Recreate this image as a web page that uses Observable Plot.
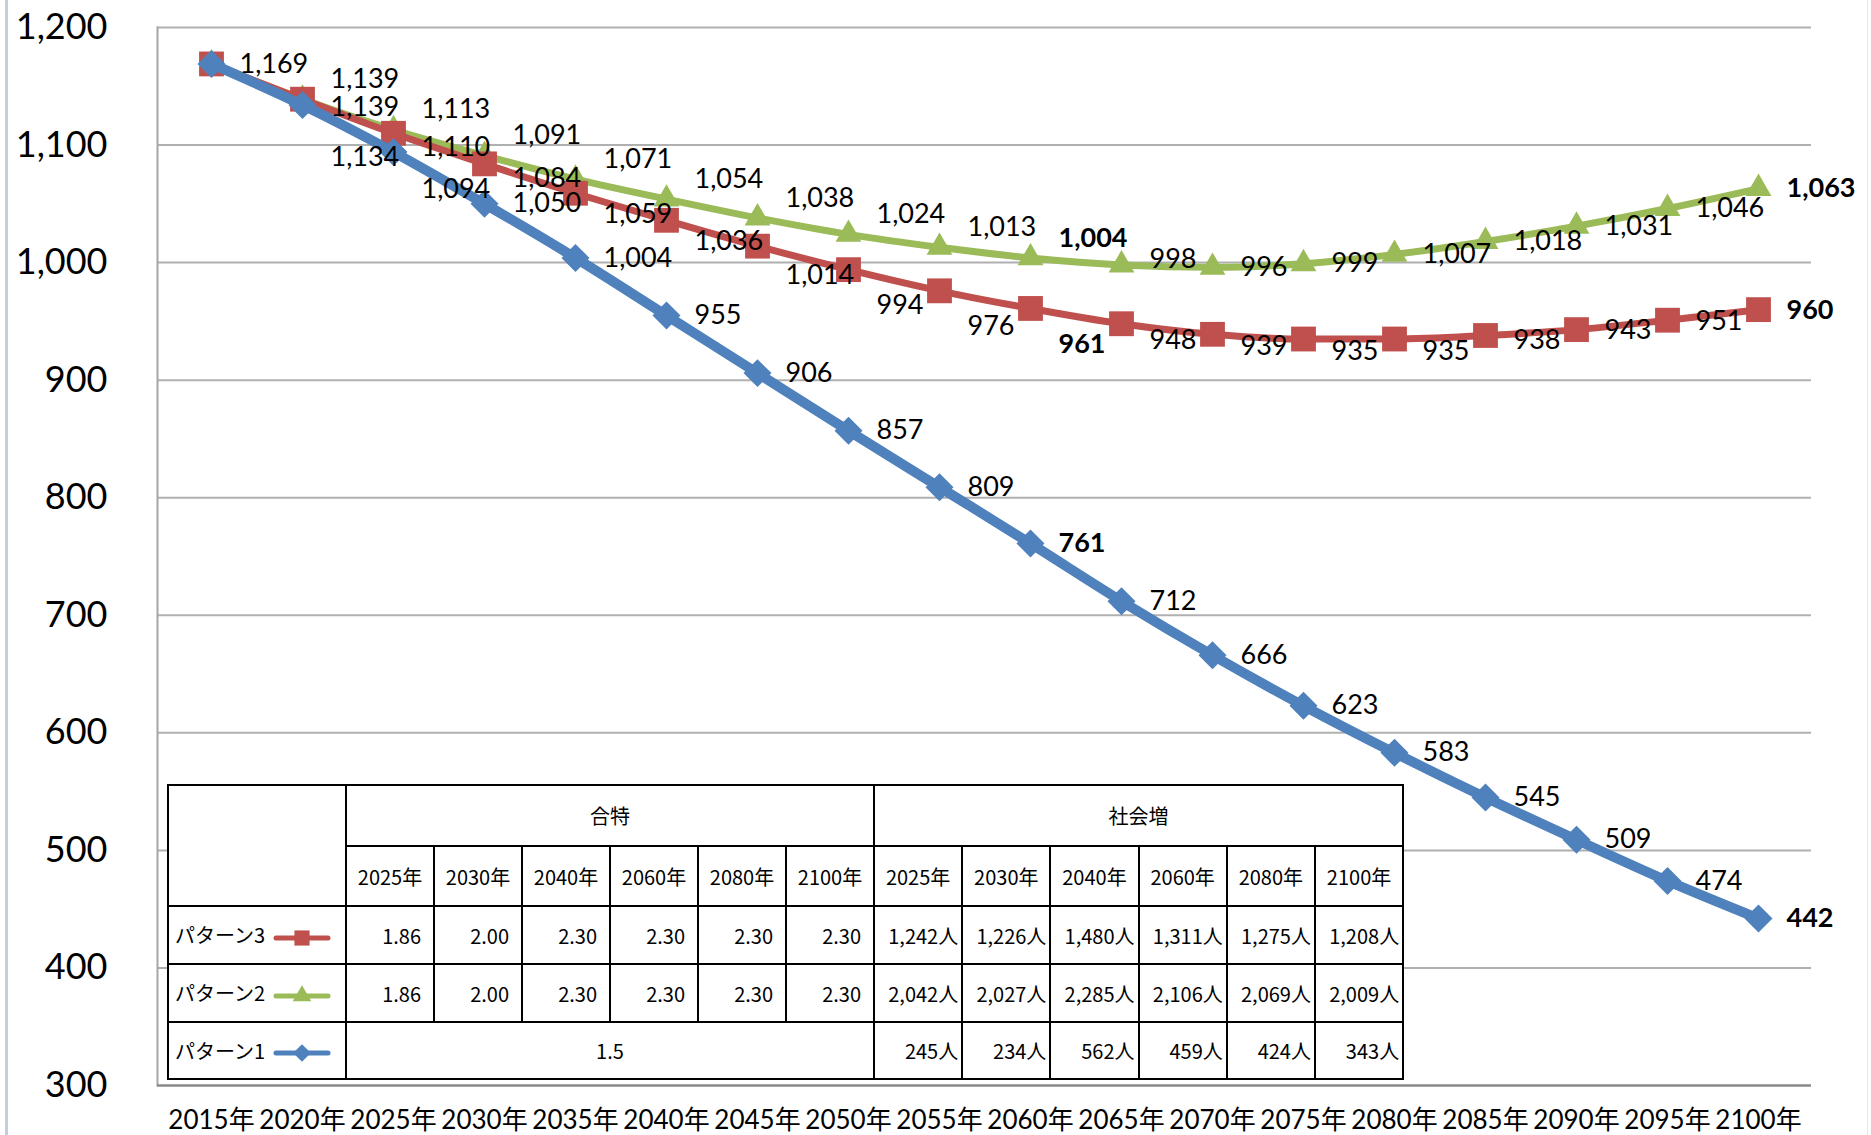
<!DOCTYPE html>
<html>
<head>
<meta charset="utf-8">
<script src="https://cdn.jsdelivr.net/npm/d3@7"></script>
<script src="https://cdn.jsdelivr.net/npm/@observablehq/plot@0.6"></script>
<style>
  html, body { margin: 0; padding: 0; background: #fff; }
  #wrap { position: relative; width: 1871px; height: 1135px; overflow: hidden; background: #fff; }
  #edgeL { position: absolute; left: 5px; top: 0; width: 3px; height: 1135px; background: #c3cde0; }
  #edgeR { position: absolute; left: 1867px; top: 0; width: 1px; height: 1135px; background: #e3e8f2; }
  #tbl { position: absolute; left: 167px; top: 784px; width: 1235px; height: 295px;
         border-collapse: collapse; table-layout: fixed; background: #fff;
         font-family: "Noto Sans CJK JP", "Noto Sans", sans-serif; font-size: 20px; color: #000; }
  #tbl td { border: 2px solid #000; padding: 0; white-space: nowrap; overflow: hidden; }
  #tbl td.c { text-align: center; }
  #tbl td.r1 { text-align: right; padding-right: 12px; }
  #tbl td.r2 { text-align: right; padding-right: 3px; }
  #tbl td.lg { padding-left: 6px; }
  #tbl td.lg svg { vertical-align: middle; margin-left: 8px; }
</style>
</head>
<body>
<div id="wrap">
  <div id="chart"></div>
  <div id="edgeL"></div>
  <div id="edgeR"></div>
</div>
<script>
// ---------------- data ----------------
const years = [2015, 2020, 2025, 2030, 2035, 2040, 2045, 2050, 2055, 2060, 2065, 2070, 2075, 2080, 2085, 2090, 2095, 2100];
const pattern1 = [1169, 1134, 1094, 1050, 1004, 955, 906, 857, 809, 761, 712, 666, 623, 583, 545, 509, 474, 442];
const pattern2 = [1169, 1139, 1113, 1091, 1071, 1054, 1038, 1024, 1013, 1004, 998, 996, 999, 1007, 1018, 1031, 1046, 1063];
const pattern3 = [1169, 1139, 1110, 1084, 1059, 1036, 1014, 994, 976, 961, 948, 939, 935, 935, 938, 943, 951, 960];
const seriesNames = ["パターン1", "パターン2", "パターン3"];
const highlightYears = [2060, 2100];
const yTicks = [300, 400, 500, 600, 700, 800, 900, 1000, 1100, 1200];

const tableGroupHeaders = ["合特", "社会増"];
const tableYears = ["2025年", "2030年", "2040年", "2060年", "2080年", "2100年"];
const tfrPattern3 = [1.86, 2.00, 2.30, 2.30, 2.30, 2.30];
const tfrPattern2 = [1.86, 2.00, 2.30, 2.30, 2.30, 2.30];
const tfrPattern1 = 1.5;
const socialPattern3 = [1242, 1226, 1480, 1311, 1275, 1208];
const socialPattern2 = [2042, 2027, 2285, 2106, 2069, 2009];
const socialPattern1 = [245, 234, 562, 459, 424, 343];

// ---------------- layout / style ----------------
const seriesValues = { "パターン1": pattern1, "パターン2": pattern2, "パターン3": pattern3 };
const seriesStyle = {
  "パターン1": { color: "#4F81BD", symbol: "diamond2", r: 12.6, width: 10, d3sym: d3.symbolDiamond2, legendSize: 200 },
  "パターン2": { color: "#9BBB59", symbol: "triangle", r: 9.6, width: 7, d3sym: d3.symbolTriangle, legendSize: 150 },
  "パターン3": { color: "#C0504D", symbol: "square", r: 14, width: 7, d3sym: d3.symbolSquare, legendSize: 230 }
};
// vertical label nudges (px); null = label not shown
const labelDy = {
  "パターン1": [0, 52, 37, 0, 0, 0, 0, 0, 0, 0, 0, 0, 0, 0, 0, 0, 0, 0],
  "パターン2": [null, -20, -20, -20, -20, -20, -20, -20, -20, -20, -6, 0, 0, 0, 0, 0, 0, 0],
  "パターン3": [null, 8, 14, 14, 21, 21, 29, 36, 36, 36, 17, 12, 12, 12, 5, 1, 1, 1]
};
const drawOrder = ["パターン2", "パターン3", "パターン1"];

const rows = [];
for (const s of seriesNames) {
  years.forEach((yr, i) => rows.push({ series: s, year: yr, value: seriesValues[s][i], i }));
}

const lineMarks = [];
for (const s of drawOrder) {
  const st = seriesStyle[s];
  const data = rows.filter(d => d.series === s);
  lineMarks.push(Plot.line(data, { x: "year", y: "value", stroke: st.color, strokeWidth: st.width, curve: "monotone-x", strokeLinejoin: "round" }));
  lineMarks.push(Plot.dot(data, { x: "year", y: "value", symbol: () => st.symbol, r: st.r, fill: st.color, stroke: "none" }));
}

const labelRows = rows
  .filter(d => labelDy[d.series][d.i] !== null)
  .map(d => ({ ...d, dy: labelDy[d.series][d.i], bold: highlightYears.includes(d.year) }));
const labelMarks = d3.groups(labelRows, d => d.dy + "|" + d.bold).map(([key, data]) =>
  Plot.text(data, {
    x: "year", y: "value", text: d => d3.format(",")(d.value),
    dx: 28, dy: data[0].dy, textAnchor: "start", fontSize: 27,
    fontWeight: data[0].bold ? "bold" : "normal", fill: "#000"
  })
);

const chart = Plot.plot({
  width: 1871,
  height: 1135,
  marginLeft: 157,
  marginRight: 60,
  marginTop: 27,
  marginBottom: 50,
  style: { fontFamily: "Lato, 'Noto Sans CJK JP', sans-serif", background: "transparent", color: "#000" },
  x: { type: "point", domain: years, padding: 0.5, label: null },
  y: { domain: [300, 1200], label: null },
  marks: [
    Plot.gridY(yTicks.filter(t => t > 300), { stroke: "#b0b0b0", strokeOpacity: 1, strokeWidth: 2 }),
    Plot.frame({ anchor: "left", stroke: "#a6a6a6", strokeWidth: 2 }),
    Plot.ruleY([300], { stroke: "#8a8a8a", strokeWidth: 2.5 }),
    ...lineMarks,
    ...labelMarks,
    Plot.axisY(yTicks, { tickSize: 0, tickPadding: 50, fontSize: 36, tickFormat: d3.format(","), fill: "#000", label: null }),
    Plot.axisX({ tickSize: 0, tickPadding: 25, fontSize: 26, tickFormat: d => d + "年", fill: "#000", label: null })
  ]
});
document.getElementById("chart").appendChild(chart);

// ---------------- table overlay ----------------
const wrap = d3.select("#wrap");
const table = wrap.append("table").attr("id", "tbl");
const cg = table.append("colgroup");
cg.append("col").style("width", "178px");
for (let i = 0; i < 12; i++) cg.append("col").style("width", i < 6 ? "88px" : "88.2px");

const tr1 = table.append("tr").style("height", "61px");
tr1.append("td").attr("rowspan", 2);
tableGroupHeaders.forEach(h => tr1.append("td").attr("colspan", 6).attr("class", "c").text(h));

const tr2 = table.append("tr").style("height", "60px");
[...tableYears, ...tableYears].forEach(y => tr2.append("td").attr("class", "c").text(y));

function legendCell(tr, name) {
  const td = tr.append("td").attr("class", "lg");
  td.append("span").text(name);
  const st = seriesStyle[name];
  const svg = td.append("svg").attr("width", 58).attr("height", 24);
  svg.append("line").attr("x1", 3).attr("x2", 55).attr("y1", 12).attr("y2", 12)
    .attr("stroke", st.color).attr("stroke-width", 5).attr("stroke-linecap", "round");
  svg.append("path").attr("transform", "translate(29,12)")
    .attr("d", d3.symbol(st.d3sym, st.legendSize)()).attr("fill", st.color);
}

const fmtTfr = d3.format(".2f");
const fmtPeople = v => d3.format(",")(v) + "人";

const tr3 = table.append("tr").style("height", "58px");
legendCell(tr3, "パターン3");
tfrPattern3.forEach(v => tr3.append("td").attr("class", "r1").text(fmtTfr(v)));
socialPattern3.forEach(v => tr3.append("td").attr("class", "r2").text(fmtPeople(v)));

const tr4 = table.append("tr").style("height", "58px");
legendCell(tr4, "パターン2");
tfrPattern2.forEach(v => tr4.append("td").attr("class", "r1").text(fmtTfr(v)));
socialPattern2.forEach(v => tr4.append("td").attr("class", "r2").text(fmtPeople(v)));

const tr5 = table.append("tr").style("height", "57px");
legendCell(tr5, "パターン1");
tr5.append("td").attr("colspan", 6).attr("class", "c").text(String(tfrPattern1));
socialPattern1.forEach(v => tr5.append("td").attr("class", "r2").text(fmtPeople(v)));
</script>
</body>
</html>
